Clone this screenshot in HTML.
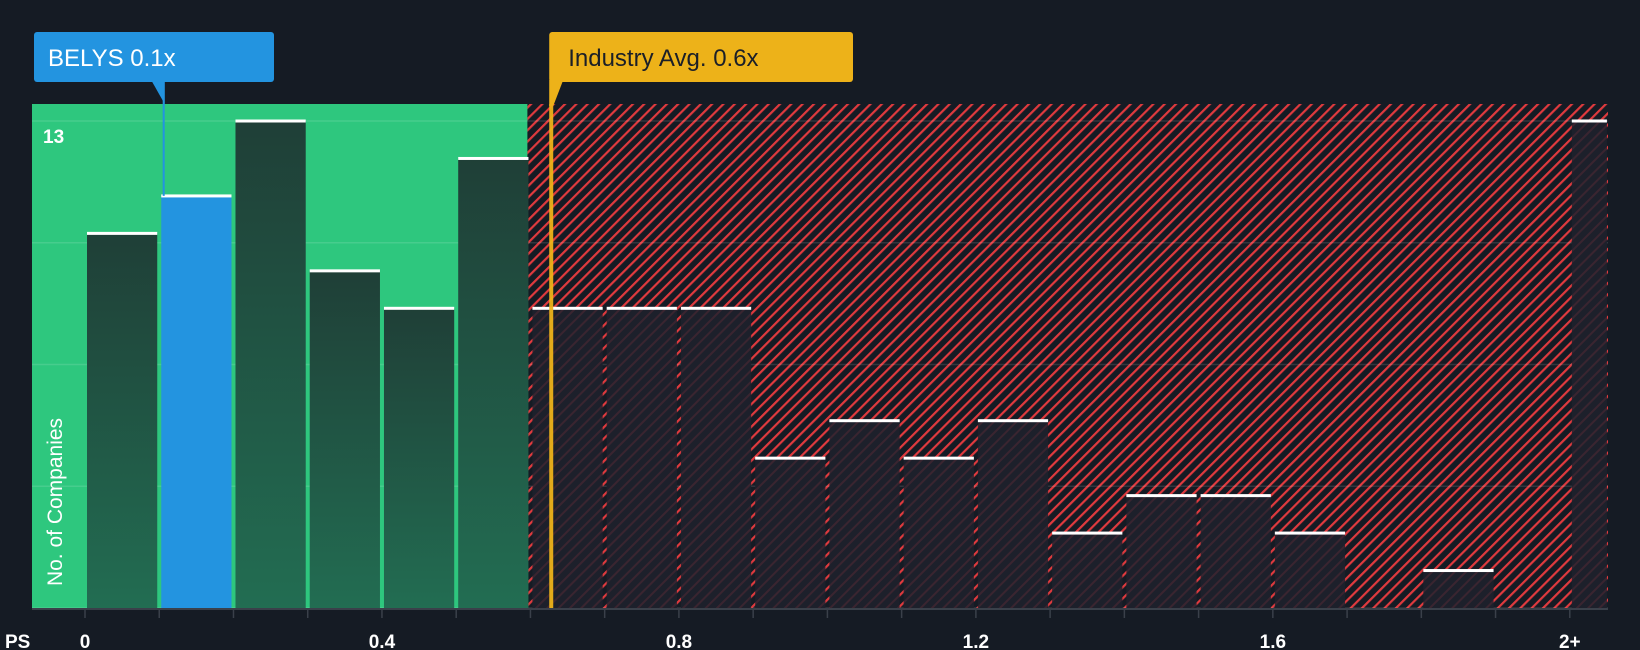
<!DOCTYPE html>
<html><head><meta charset="utf-8"><style>
html,body{margin:0;padding:0;background:#151b24;}
svg{display:block;font-family:"Liberation Sans",sans-serif;}
</style></head><body>
<svg id="chart" width="1640" height="650" viewBox="0 0 1640 650">
<defs>
<pattern id="hatch" patternUnits="userSpaceOnUse" width="8" height="8" patternTransform="rotate(45)">
<rect width="8" height="8" fill="#151b24"/><rect x="0" y="0" width="2.2" height="8" fill="#e03a3e"/>
</pattern>
<pattern id="hatch2" patternUnits="userSpaceOnUse" width="8" height="8" patternTransform="rotate(45)">
<rect width="8" height="8" fill="#1d202b"/><rect x="0" y="0" width="2" height="8" fill="#3a2530"/>
</pattern>
<linearGradient id="gbar" x1="0" y1="0" x2="0" y2="1"><stop offset="0" stop-color="#1f3f37"/><stop offset="1" stop-color="#226d52"/></linearGradient>
</defs>
<g id="bg"></g>
<g id="grid"></g>
<g id="bars"></g>
<g id="axis"></g>
</svg>
<script>
const categories=["0","0.1","0.2","0.3","0.4","0.5","0.6","0.7","0.8","0.9","1.0","1.1","1.2","1.3","1.4","1.5","1.6","1.7","1.8","1.9","2+"];
const counts=[10,11,13,9,8,12,8,8,8,4,5,4,5,2,3,3,2,0,1,0,13];
const tickValues=[0,0.4,0.8,1.2,1.6,2];
const tickLabels=["0","0.4","0.8","1.2","1.6","2+"];
const companyValue=0.106;
const industryValue=0.628;
const yMax=13;
const NS="http://www.w3.org/2000/svg";
const X0=85,PER=742.4,BASE=608,TOP=121,L=32,R=1608,PT=104;
const x=v=>X0+v*PER;
const y=v=>BASE-(BASE-TOP)*v/yMax;
function mk(tag,attrs,parent){const e=document.createElementNS(NS,tag);for(const k in attrs)e.setAttribute(k,attrs[k]);parent.appendChild(e);return e;}
const bg=document.getElementById('bg'),grid=document.getElementById('grid'),bars=document.getElementById('bars'),axis=document.getElementById('axis');
const greenEnd=x(0.6)-3;
let el=mk('rect',{x:L,y:PT,width:greenEnd-L,height:BASE-PT,fill:'#2ec77e'},bg);


el=mk('rect',{x:greenEnd,y:PT,width:R-greenEnd,height:BASE-PT,fill:'url(#hatch)'},bg);


for(let i=0;i<=4;i++){const g=y(yMax*i/4);
el=mk('line',{x1:L,x2:R,y1:g,y2:g,stroke:'rgba(255,255,255,0.12)','stroke-width':1.5},grid);

}
counts.forEach((c,i)=>{
  const last=i===counts.length-1;
  const v0=i*0.1, w=last?0.05:0.1;
  const bx=x(v0)+2, bw=w*PER-(last?2:4);
  const green=v0<0.6;
  let fill=green?'url(#gbar)':'url(#hatch2)';
  if(i===1)fill='#2394e0';
  if(c>0){
    const r=mk('rect',{x:bx,y:y(c),width:bw,height:BASE-y(c),fill:fill},bars);
    
    
    const cap=mk('rect',{x:bx,y:y(c)-1.5,width:bw,height:3,fill:'#ffffff'},bars);
    
    
  }
});
el=mk('line',{x1:L,x2:R,y1:BASE+1,y2:BASE+1,stroke:'#3a404a','stroke-width':2},axis);


for(let i=0;i<=20;i++){const tx=x(i*0.1);
el=mk('line',{x1:tx,x2:tx,y1:BASE,y2:BASE+10,stroke:'#3a404a','stroke-width':1.5},axis);

}
tickValues.forEach((v,i)=>{
  const t=mk('text',{x:x(v),y:648,'text-anchor':'middle',fill:'#ffffff','font-size':19,'font-weight':'bold'},axis);
  t.textContent=tickLabels[i];
  
  
});
el=mk('text',{x:5,y:648,fill:'#ffffff','font-size':19,'font-weight':'bold'},axis);el.textContent='PS';


el=mk('text',{x:43,y:143,fill:'#ffffff','font-size':19,'font-weight':'bold'},axis);el.textContent=String(yMax);


el=mk('text',{x:0,y:0,fill:'#ffffff','font-size':21,'text-anchor':'middle',transform:'translate(62,502) rotate(-90)'},axis);el.textContent='No. of Companies';


// industry line
const ix=x(industryValue);
el=mk('rect',{x:ix-2,y:PT,width:4,height:BASE-PT,fill:'#edb219',opacity:0.95},axis);


el=mk('path',{d:`M${ix-2} 80 L${ix+12} 80 L${ix+2} 106 L${ix-2} 106 Z`,fill:'#edb219'},axis);


el=mk('rect',{x:ix-2,y:32,width:855-ix,height:50,rx:3,fill:'#edb219'},axis);


el=mk('text',{x:ix+17,y:66,fill:'#1b1f28','font-size':24},axis);el.textContent='Industry Avg. 0.6x';


// company marker
const cx=x(companyValue);
el=mk('line',{x1:cx,x2:cx,y1:82,y2:y(counts[1]),stroke:'#2394e0','stroke-width':2},axis);


el=mk('path',{d:`M${cx-12} 81 L${cx+1} 81 L${cx+1} 104 Z`,fill:'#2394e0'},axis);


el=mk('rect',{x:34,y:32,width:240,height:50,rx:3,fill:'#2394e0'},axis);


el=mk('text',{x:48,y:66,fill:'#ffffff','font-size':24},axis);el.textContent='BELYS 0.1x';


</script>
</body></html>
